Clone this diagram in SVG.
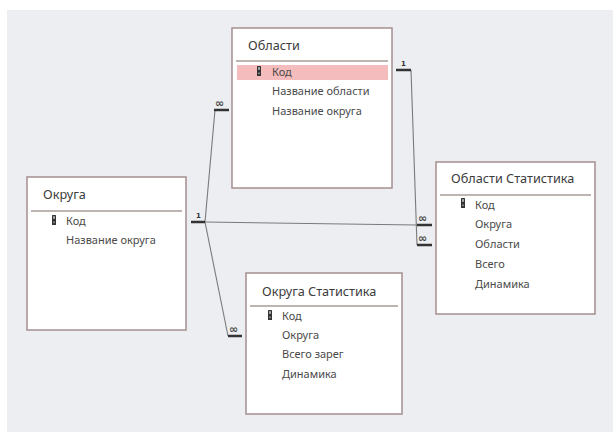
<svg xmlns="http://www.w3.org/2000/svg" width="613" height="432" viewBox="0 0 613 432">
<defs>
<style>
.bg{fill:#eceef2}
.box{fill:#ffffff;stroke:#a48e8e;stroke-width:1.5}
.sep{stroke:#a89c9a;stroke-width:1.3}
.title{font-family:"Noto Sans","Open Sans",sans-serif;font-size:12.7px;fill:#3c3c3c}
.fld{font-family:"Noto Sans","Open Sans",sans-serif;font-size:11px;fill:#4a4a4a}
.card{font-family:"DejaVu Sans",sans-serif;font-size:7px;font-weight:bold;fill:#333}
.inf{font-family:"DejaVu Sans",sans-serif;font-size:11px;font-weight:bold;fill:#444}
.ln{stroke:#7a7a7a;stroke-width:1.1;fill:none}
.bar{stroke:#333;stroke-width:2.5}
</style>
<g id="key">
<rect x="0" y="0" width="4" height="10" rx="0.6" fill="#333"/>
<rect x="1.2" y="1.2" width="1.6" height="2.6" fill="#c8c8c8"/>
<rect x="1.2" y="6.5" width="1.6" height="1.6" fill="#9a9a9a"/>
</g>
</defs>
<rect class="bg" x="7" y="10" width="606" height="422"/>

<g id="connectors">
<polyline class="ln" points="205,222 215,110"/>
<polyline class="ln" points="205,222 228,336"/>
<polyline class="ln" points="205,222 417,225"/>
<polyline class="ln" points="411,70 417,245"/>
<line class="bar" x1="191" y1="222" x2="205" y2="222"/>
<text class="card" x="196" y="218">1</text>
<line class="bar" x1="214" y1="110" x2="229" y2="110"/>
<text class="inf" x="215" y="107">∞</text>
<line class="bar" x1="228" y1="336" x2="242" y2="336"/>
<text class="inf" x="229" y="333">∞</text>
<line class="bar" x1="396" y1="70" x2="411" y2="70"/>
<text class="card" x="401" y="66">1</text>
<line class="bar" x1="417" y1="225" x2="432" y2="225"/>
<text class="inf" x="418" y="222">∞</text>
<line class="bar" x1="417" y1="245" x2="432" y2="245"/>
<text class="inf" x="418" y="242">∞</text>
</g>

<g id="oblasti">
<rect class="box" x="232" y="28" width="160" height="160"/>
<text class="title" x="248" y="50">Области</text>
<line class="sep" x1="236" y1="61" x2="388" y2="61"/>
<rect x="237" y="65" width="151" height="15" fill="#f4bcbc"/>
<use href="#key" x="257" y="66"/>
<text class="fld" x="272" y="76">Код</text>
<text class="fld" x="272" y="95">Название области</text>
<text class="fld" x="272" y="115">Название округа</text>
</g>

<g id="okruga">
<rect class="box" x="27" y="177" width="159" height="153"/>
<text class="title" x="43" y="199">Округа</text>
<line class="sep" x1="31" y1="211" x2="182" y2="211"/>
<use href="#key" x="52" y="215"/>
<text class="fld" x="66" y="225">Код</text>
<text class="fld" x="66" y="244">Название округа</text>
</g>

<g id="oblasti-stat">
<rect class="box" x="436" y="162" width="159" height="152"/>
<text class="title" x="451" y="183">Области Статистика</text>
<line class="sep" x1="440" y1="195" x2="591" y2="195"/>
<use href="#key" x="461" y="198"/>
<text class="fld" x="475" y="209">Код</text>
<text class="fld" x="475" y="228">Округа</text>
<text class="fld" x="475" y="248">Области</text>
<text class="fld" x="475" y="268">Всего</text>
<text class="fld" x="475" y="288">Динамика</text>
</g>

<g id="okruga-stat">
<rect class="box" x="246" y="273" width="156" height="141"/>
<text class="title" x="262" y="296">Округа Статистика</text>
<line class="sep" x1="250" y1="306" x2="398" y2="306"/>
<use href="#key" x="268" y="310"/>
<text class="fld" x="282" y="320">Код</text>
<text class="fld" x="282" y="339">Округа</text>
<text class="fld" x="282" y="358">Всего зарег</text>
<text class="fld" x="282" y="378">Динамика</text>
</g>
</svg>
